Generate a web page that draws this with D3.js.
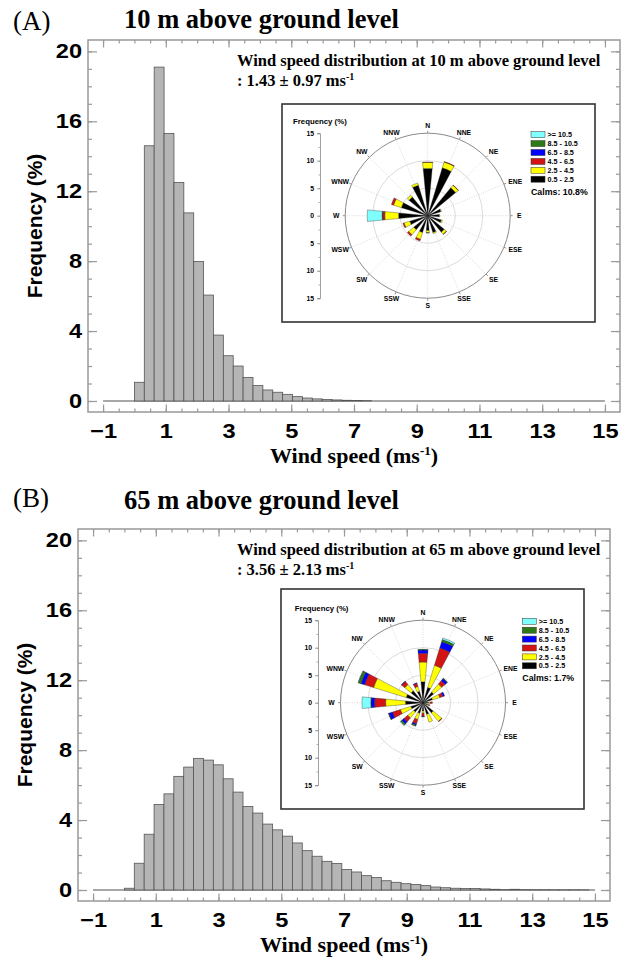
<!DOCTYPE html>
<html>
<head>
<meta charset="utf-8">
<script src="https://cdn.jsdelivr.net/npm/d3@7"></script>
<style>
body { margin: 0; background: #fff; }
svg { display: block; }
.sans { font-family: "Liberation Sans", Arial, sans-serif; font-weight: bold; }
.serif { font-family: "Liberation Serif", "Times New Roman", serif; }
</style>
</head>
<body>
<svg id="fig" width="628" height="958"></svg>
<script>
// wind speed histogram, frequency (%) per bin, bins start at 0 m/s
var binWidth = 0.315;
var freq10 = [1.07, 14.6, 19.1, 15.3, 12.5, 10.76, 7.98, 6.06, 3.77, 2.59, 2.0, 1.35,
              0.88, 0.63, 0.50, 0.38, 0.25, 0.17, 0.12, 0.08, 0.06, 0.04, 0.03, 0.02];
var freq65 = [0.1, 1.53, 3.19, 4.89, 5.50, 6.50, 7.03, 7.53, 7.43, 7.16, 6.36, 5.60,
              4.78, 4.40, 3.77, 3.44, 3.08, 2.69, 2.25, 1.93, 1.64, 1.51, 1.17, 1.03,
              0.82, 0.71, 0.53, 0.44, 0.36, 0.31, 0.25, 0.17, 0.13, 0.10, 0.08, 0.08,
              0.06, 0.04, 0.02, 0.04, 0.02, 0.015, 0.015, 0.01, 0.01, 0.01, 0.005];

var xTicks = [-1, 1, 3, 5, 7, 9, 11, 13, 15];
var yTicks = [0, 4, 8, 12, 16, 20];

// wind rose: frequency (%) per direction, stacked by speed class
var directions = ["N", "NNE", "NE", "ENE", "E", "ESE", "SE", "SSE",
                  "S", "SSW", "SW", "WSW", "W", "WNW", "NW", "NNW"];
var speedClasses = ["0.5 - 2.5", "2.5 - 4.5", "4.5 - 6.5", "6.5 - 8.5", "8.5 - 10.5", ">= 10.5"];
var rose10 = [
  [8.6, 1.1, 0.05, 0, 0, 0],
  [9.1, 1.1, 0.1, 0, 0, 0],
  [6.6, 0.6, 0.05, 0, 0, 0],
  [2.5, 0.1, 0, 0, 0, 0],
  [2.1, 0.1, 0, 0, 0, 0],
  [2.6, 0.2, 0, 0, 0, 0],
  [3.9, 0.5, 0.05, 0, 0, 0],
  [3.2, 0.2, 0, 0, 0, 0],
  [2.7, 0.4, 0.05, 0, 0, 0],
  [3.2, 1.3, 0.3, 0, 0, 0],
  [3.3, 1.2, 0.3, 0, 0, 0],
  [3.4, 1.1, 0.2, 0, 0, 0],
  [5.3, 2.5, 0.4, 0.05, 0.05, 2.7],
  [5.0, 1.5, 0.4, 0, 0, 0],
  [4.4, 0.4, 0, 0, 0, 0],
  [5.8, 0.4, 0, 0, 0, 0]
];
var rose65 = [
  [3.8, 3.6, 1.6, 0.6, 0.1, 0],
  [2.9, 4.2, 3.3, 1.2, 0.4, 0.3],
  [2.5, 1.9, 0.8, 0.5, 0.1, 0],
  [1.8, 1.4, 0.6, 0.3, 0, 0],
  [1.0, 0.3, 0.4, 0, 0, 0],
  [0.9, 0.2, 0.2, 0, 0, 0],
  [2.4, 2.0, 0.1, 0, 0, 0],
  [2.2, 1.5, 0, 0, 0, 0],
  [1.5, 0.4, 0.6, 0.1, 0, 0],
  [2.0, 1.2, 0.8, 0.3, 0.2, 0],
  [2.2, 1.4, 0.9, 0.5, 0.3, 0.1],
  [2.3, 2.0, 1.5, 0.7, 0.1, 0],
  [3.2, 3.6, 2.0, 0.65, 0.05, 1.6],
  [3.2, 6.2, 1.7, 0.7, 0.5, 0.05],
  [2.8, 1.5, 0.7, 0.1, 0, 0],
  [2.2, 0.9, 0.6, 0.1, 0, 0]
];
var roseTicks = [15, 10, 5, 0, -5, -10, -15];
var calms10 = "Calms: 10.8%";
var calms65 = "Calms: 1.7%";

var classColors = ["#000000", "#ffff00", "#d21414", "#0000ff", "#2e7a18", "#80ffff"];

var svg = d3.select("#fig");

function drawPanel(cfg) {
  var g = svg.append("g");
  var W = 532, H = 372;
  var L = cfg.left, T = cfg.top;
  var x = d3.scaleLinear().domain([-1.48, 15.48]).range([L, L + W]);
  var y = d3.scaleLinear().domain([-0.63, 20.65]).range([T + H, T]);

  // header
  g.append("text").attr("class", "serif").attr("x", 13).attr("y", cfg.headY)
    .attr("font-size", 27).text(cfg.tag);
  g.append("text").attr("class", "serif").attr("x", 124).attr("y", cfg.titleY)
    .attr("font-size", 26.5).attr("font-weight", "bold").text(cfg.title);

  // bars
  var bins = cfg.freq.map(function(v, i) {
    return { x0: i * binWidth, x1: (i + 1) * binWidth, v: v };
  });
  g.append("line")
    .attr("x1", x(-1)).attr("x2", x(15)).attr("y1", y(0)).attr("y2", y(0))
    .attr("stroke", "#8a8a8a").attr("stroke-width", 1.3);
  g.selectAll("rect.bar").data(bins).enter().append("rect")
    .attr("class", "bar")
    .attr("x", function(d) { return x(d.x0); })
    .attr("width", function(d) { return x(d.x1) - x(d.x0); })
    .attr("y", function(d) { return y(d.v); })
    .attr("height", function(d) { return y(0) - y(d.v); })
    .attr("fill", "#b5b5b5").attr("stroke", "#555").attr("stroke-width", 0.8);

  // axes, ticks pointing inward
  var minorX = d3.range(-1, 15.01, 0.5), minorY = d3.range(0, 20.01, 1);
  function styleAxis(sel) {
    sel.select(".domain").remove();
    sel.selectAll("line").attr("stroke", "#999").attr("stroke-width", 1.2);
  }
  g.append("g").attr("transform", "translate(0," + (T + H) + ")")
    .call(d3.axisBottom(x).tickValues(minorX).tickSize(-3.5).tickFormat(""))
    .call(styleAxis);
  g.append("g").attr("transform", "translate(0," + (T + H) + ")")
    .call(d3.axisBottom(x).tickValues(xTicks).tickSize(-7.5).tickPadding(12))
    .call(styleAxis)
    .selectAll("text").attr("class", "sans").attr("font-size", 20).attr("fill", "#000")
    .attr("transform", "scale(1.18,1)");
  g.append("g").attr("transform", "translate(0," + T + ")")
    .call(d3.axisTop(x).tickValues(minorX).tickSize(-3.5).tickFormat(""))
    .call(styleAxis);
  g.append("g").attr("transform", "translate(0," + T + ")")
    .call(d3.axisTop(x).tickValues(xTicks).tickSize(-7.5).tickFormat(""))
    .call(styleAxis);
  g.append("g").attr("transform", "translate(" + L + ",0)")
    .call(d3.axisLeft(y).tickValues(minorY).tickSize(-4).tickFormat(""))
    .call(styleAxis);
  g.append("g").attr("transform", "translate(" + L + ",0)")
    .call(d3.axisLeft(y).tickValues(yTicks).tickSize(-9).tickPadding(5))
    .call(styleAxis)
    .selectAll("text").attr("class", "sans").attr("font-size", 20).attr("fill", "#000")
    .attr("transform", "scale(1.18,1)");
  g.append("g").attr("transform", "translate(" + (L + W) + ",0)")
    .call(d3.axisRight(y).tickValues(minorY).tickSize(-4).tickFormat(""))
    .call(styleAxis);
  g.append("g").attr("transform", "translate(" + (L + W) + ",0)")
    .call(d3.axisRight(y).tickValues(yTicks).tickSize(-9).tickFormat(""))
    .call(styleAxis);
  g.append("rect").attr("x", L).attr("y", T).attr("width", W).attr("height", H)
    .attr("fill", "none").attr("stroke", "#999").attr("stroke-width", 1.5);

  // axis titles
  g.append("text").attr("class", "sans").attr("font-size", 21)
    .attr("text-anchor", "middle")
    .attr("transform", "translate(" + (L - 46) + "," + (T + H / 2) + ") rotate(-90)")
    .text("Frequency (%)");
  var xt = g.append("text").attr("class", "serif").attr("font-size", 22).attr("font-weight", "bold")
    .attr("text-anchor", "middle").attr("x", L + W / 2).attr("y", T + H + 51);
  xt.append("tspan").text("Wind speed (ms");
  xt.append("tspan").attr("font-size", 13).attr("dy", -8).text("-1");
  xt.append("tspan").attr("dy", 8).text(")");

  // annotation
  g.append("text").attr("class", "serif").attr("font-size", 16.5).attr("font-weight", "bold")
    .attr("x", 237).attr("y", T + 26).text(cfg.note);
  var n2 = g.append("text").attr("class", "serif").attr("font-size", 16.5).attr("font-weight", "bold")
    .attr("x", 237).attr("y", T + 46);
  n2.append("tspan").text(cfg.stat + " ms");
  n2.append("tspan").attr("font-size", 10).attr("dy", -6).text("-1");

  drawRose(g, cfg.rose, cfg.roseData, cfg.calms);
}

function drawRose(g, cfg, data, calms) {
  var bx = cfg.box[0], by = cfg.box[1];
  g.append("rect").attr("x", bx).attr("y", by).attr("width", cfg.box[2]).attr("height", cfg.box[3])
    .attr("fill", "#fff").attr("stroke", "#333").attr("stroke-width", 1.6);

  var R = 82.5;
  var r = d3.scaleLinear().domain([0, 15]).range([0, R]);
  var cx = bx + cfg.center[0], cy = by + cfg.center[1];
  var rg = g.append("g").attr("transform", "translate(" + cx + "," + cy + ")");
  var step = Math.PI / 8;

  [5, 10].forEach(function(v) {
    rg.append("circle").attr("r", r(v)).attr("fill", "none")
      .attr("stroke", "#d2d2d2").attr("stroke-width", 0.8);
  });
  directions.forEach(function(d, i) {
    var a = i * step;
    rg.append("line").attr("x1", 0).attr("y1", 0)
      .attr("x2", R * Math.sin(a)).attr("y2", -R * Math.cos(a))
      .attr("stroke", "#c8c8c8").attr("stroke-width", 0.7).attr("stroke-dasharray", "1,1.5");
    rg.append("line")
      .attr("x1", R * Math.sin(a)).attr("y1", -R * Math.cos(a))
      .attr("x2", (R + 2.5) * Math.sin(a)).attr("y2", -(R + 2.5) * Math.cos(a))
      .attr("stroke", "#777").attr("stroke-width", 0.8);
  });
  rg.append("circle").attr("r", R).attr("fill", "none")
    .attr("stroke", "#8a8a8a").attr("stroke-width", 1);

  // petals
  var arc = d3.arc();
  var half = 5.5 * Math.PI / 180;
  data.forEach(function(vals, i) {
    var a = i * step, cum = 0;
    vals.forEach(function(v, k) {
      if (v <= 0) return;
      rg.append("path")
        .attr("d", arc({ innerRadius: r(cum), outerRadius: r(cum + v), startAngle: a - half, endAngle: a + half }))
        .attr("fill", classColors[k]).attr("stroke", "#222").attr("stroke-width", 0.35);
      cum += v;
    });
  });

  // direction labels
  directions.forEach(function(d, i) {
    var a = i * step;
    var lx = 90 * Math.sin(a) + Math.sin(a) * d.length * 1.6;
    var ly = -90 * Math.cos(a);
    rg.append("text").attr("class", "sans").attr("font-size", 6.8)
      .attr("text-anchor", "middle").attr("x", lx).attr("y", ly + 2.3).text(d);
  });

  // frequency axis
  var ax = bx + cfg.axisX;
  var ry = d3.scaleLinear().domain([-15, 15]).range([cy + R, cy - R]);
  g.append("g").attr("transform", "translate(" + ax + ",0)")
    .call(d3.axisLeft(ry).tickValues(d3.range(-15, 15.1, 2.5)).tickSize(1.5).tickFormat(""))
    .call(function(s) { s.selectAll("line").attr("stroke", "#888").attr("stroke-width", 0.7); s.select(".domain").remove(); });
  var ya = g.append("g").attr("transform", "translate(" + ax + ",0)")
    .call(d3.axisLeft(ry).tickValues(roseTicks).tickSize(3).tickPadding(3)
      .tickFormat(function(v) { return Math.abs(v); }));
  ya.select(".domain").attr("stroke", "#888").attr("stroke-width", 0.8);
  ya.selectAll("line").attr("stroke", "#888").attr("stroke-width", 0.7);
  ya.selectAll("text").attr("class", "sans").attr("font-size", 6.8).attr("fill", "#000");
  g.append("text").attr("class", "sans").attr("font-size", 7.8)
    .attr("x", bx + cfg.freqLabel[0]).attr("y", by + cfg.freqLabel[1]).text("Frequency (%)");

  // legend, highest class on top
  var lx0 = bx + cfg.legend[0], ly0 = by + cfg.legend[1];
  speedClasses.slice().reverse().forEach(function(s, j) {
    var k = speedClasses.length - 1 - j;
    g.append("rect").attr("x", lx0).attr("y", ly0 + j * 8.9).attr("width", 14).attr("height", 6)
      .attr("fill", classColors[k]).attr("stroke", "#333").attr("stroke-width", 0.5);
    g.append("text").attr("class", "sans").attr("font-size", 7.2)
      .attr("x", lx0 + 16.5).attr("y", ly0 + j * 8.9 + 5.6).text(s);
  });
  g.append("text").attr("class", "sans").attr("font-size", 8.8)
    .attr("x", lx0).attr("y", ly0 + 63).text(calms);
}

drawPanel({
  tag: "(A)", title: "10 m above ground level", headY: 30, titleY: 28,
  left: 88, top: 40, freq: freq10,
  note: "Wind speed distribution at 10 m above ground level", stat: ": 1.43 \u00b1 0.97",
  roseData: rose10, calms: calms10,
  rose: { box: [282, 104, 313, 218], center: [145.7, 111.7], axisX: 38,
          freqLabel: [11, 19.5], legend: [249, 27.7] }
});
drawPanel({
  tag: "(B)", title: "65 m above ground level", headY: 507, titleY: 509,
  left: 78, top: 529, freq: freq65,
  note: "Wind speed distribution at 65 m above ground level", stat: ": 3.56 \u00b1 2.13",
  roseData: rose65, calms: calms65,
  rose: { box: [281, 589, 303, 220], center: [142, 113.7], axisX: 37,
          freqLabel: [13.7, 21.5], legend: [241.3, 29.3] }
});
</script>
</body>
</html>
